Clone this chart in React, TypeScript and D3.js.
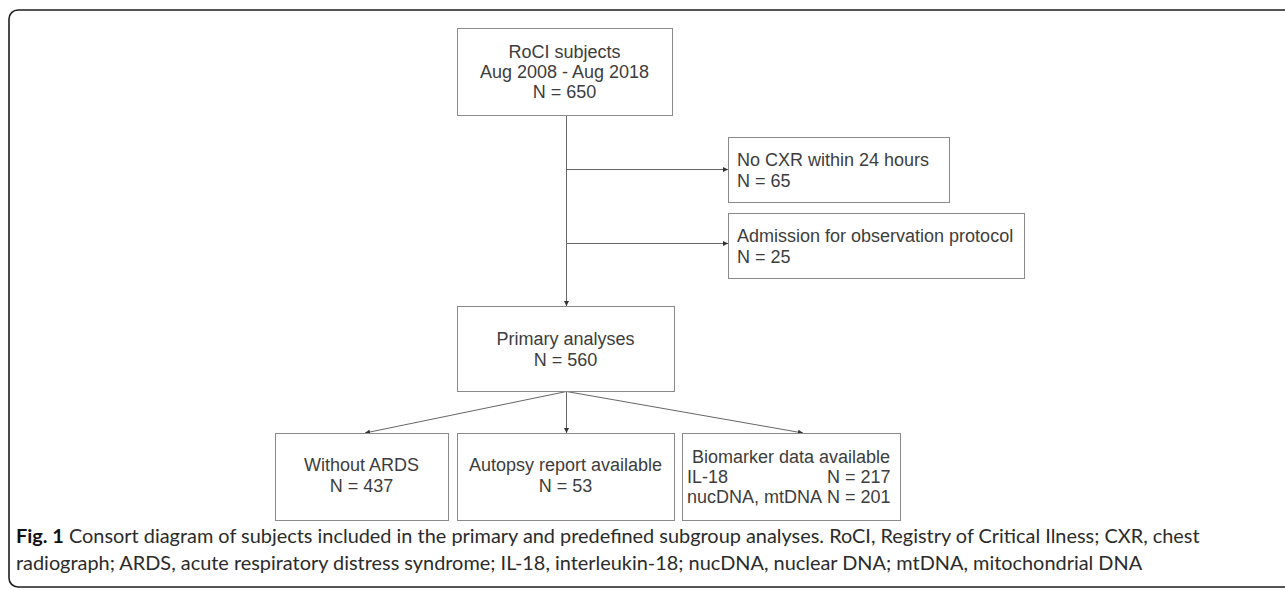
import { useEffect, useRef } from 'react'
import * as d3 from 'd3'

// * Flow data (labels and counts)
const cohortTitle = 'RoCI subjects'
const cohortPeriod = 'Aug 2008 - Aug 2018'
const cohortN = 650

const exclusionLabels = ['No CXR within 24 hours', 'Admission for observation protocol']
const exclusionCounts = [65, 25]

const primaryTitle = 'Primary analyses'
const primaryN = 560

const subgroupLabels = ['Without ARDS', 'Autopsy report available']
const subgroupCounts = [437, 53]

const biomarkerTitle = 'Biomarker data available'
const biomarkerLabels = ['IL-18', 'nucDNA, mtDNA']
const biomarkerCounts = [217, 201]

const captionLines = [
  'Consort diagram of subjects included in the primary and predefined subgroup analyses. RoCI, Registry of Critical Ilness; CXR, chest',
  'radiograph; ARDS, acute respiratory distress syndrome; IL-18, interleukin-18; nucDNA, nuclear DNA; mtDNA, mitochondrial DNA',
]

const W = 1285
const H = 590

interface Box {
  x0: number
  x1: number
  y0: number
  y1: number
}

export default function App() {
  const ref = useRef<SVGSVGElement | null>(null)

  useEffect(() => {
    const svg = d3.select(ref.current)
    svg.selectAll('*').remove()

    const font = "'Liberation Sans', Arial, sans-serif"
    const textColor = '#3d3d3d'
    const boxStroke = '#8a8a8a'
    const lineColor = '#666'

    // * arrow head
    svg
      .append('defs')
      .append('marker')
      .attr('id', 'arrow')
      .attr('viewBox', '0 0 10 10')
      .attr('refX', 10)
      .attr('refY', 5)
      .attr('markerWidth', 6)
      .attr('markerHeight', 5)
      .attr('orient', 'auto')
      .attr('markerUnits', 'userSpaceOnUse')
      .append('path')
      .attr('d', 'M0,0L10,5L0,10Z')
      .attr('fill', '#333')

    // * outer frame (right edge runs off the page)
    svg
      .append('rect')
      .attr('x', 9)
      .attr('y', 10)
      .attr('width', 1300)
      .attr('height', 577)
      .attr('rx', 9)
      .attr('fill', 'none')
      .attr('stroke', '#1e1e1e')
      .attr('stroke-width', 1.6)

    const g = svg.append('g')

    const drawBox = (b: Box) =>
      g
        .append('rect')
        .attr('x', b.x0 + 0.5)
        .attr('y', b.y0 + 0.5)
        .attr('width', b.x1 - b.x0)
        .attr('height', b.y1 - b.y0)
        .attr('fill', '#fff')
        .attr('stroke', boxStroke)
        .attr('stroke-width', 1)

    const drawLines = (lines: string[], x: number, yMid: number, anchor: string, step = 21) => {
      const y0 = yMid - ((lines.length - 1) * step) / 2
      return lines.map((t, i) =>
        g
          .append('text')
          .attr('x', x)
          .attr('y', y0 + i * step)
          .attr('dy', '0.35em')
          .attr('text-anchor', anchor)
          .attr('font-family', font)
          .attr('font-size', 18)
          .attr('fill', textColor)
          .text(t),
      )
    }

    const arrow = (x1: number, y1: number, x2: number, y2: number) =>
      g
        .append('line')
        .attr('x1', x1)
        .attr('y1', y1)
        .attr('x2', x2)
        .attr('y2', y2)
        .attr('stroke', lineColor)
        .attr('stroke-width', 1)
        .attr('marker-end', 'url(#arrow)')

    const plain = (x1: number, y1: number, x2: number, y2: number) =>
      g
        .append('line')
        .attr('x1', x1)
        .attr('y1', y1)
        .attr('x2', x2)
        .attr('y2', y2)
        .attr('stroke', lineColor)
        .attr('stroke-width', 1)

    // * layout
    const spineX = 566.5
    const top: Box = { x0: 457, x1: 672, y0: 28, y1: 115 }
    const side: Box[] = [
      { x0: 728, x1: 949, y0: 137, y1: 202 },
      { x0: 728, x1: 1024, y0: 213, y1: 278 },
    ]
    const branchY = [169.5, 243.5]
    const primary: Box = { x0: 457, x1: 674, y0: 306, y1: 391 }
    const bottom: Box[] = [
      { x0: 275, x1: 448, y0: 433, y1: 520 },
      { x0: 457, x1: 674, y0: 433, y1: 520 },
      { x0: 682, x1: 900, y0: 433, y1: 520 },
    ]

    // * connectors
    plain(spineX, top.y1, spineX, branchY[1])
    arrow(spineX, branchY[1], spineX, primary.y0)
    branchY.forEach((y, i) => arrow(spineX, y, side[i].x0, y))

    const fromY = primary.y1 + 0.5
    arrow(spineX, fromY, 365, bottom[0].y0)
    arrow(spineX, fromY, spineX, bottom[1].y0)
    arrow(spineX, fromY, 803, bottom[2].y0)

    // * boxes
    drawBox(top)
    drawLines([cohortTitle, cohortPeriod, `N = ${cohortN}`], (top.x0 + top.x1) / 2, (top.y0 + top.y1) / 2, 'middle', 20)

    side.forEach((b, i) => {
      drawBox(b)
      drawLines([exclusionLabels[i], `N = ${exclusionCounts[i]}`], b.x0 + 9, (b.y0 + b.y1) / 2 + 1, 'start')
    })

    drawBox(primary)
    drawLines([primaryTitle, `N = ${primaryN}`], (primary.x0 + primary.x1) / 2, (primary.y0 + primary.y1) / 2 + 0.5, 'middle')

    subgroupLabels.forEach((label, i) => {
      const b = bottom[i]
      drawBox(b)
      drawLines([label, `N = ${subgroupCounts[i]}`], (b.x0 + b.x1) / 2, (b.y0 + b.y1) / 2 - 1, 'middle')
    })

    const bio = bottom[2]
    drawBox(bio)
    drawLines([biomarkerTitle], (bio.x0 + bio.x1) / 2, bio.y0 + 24, 'middle')
    const labelX = bio.x0 + 5
    const labels = biomarkerLabels.map((label, i) => drawLines([label], labelX, bio.y0 + 44 + i * 20, 'start')[0])
    // N column lines up after the longer label
    const probe = labels[1].node() as SVGTextElement
    const nX = labelX + probe.getComputedTextLength() + 5
    biomarkerCounts.forEach((n, i) => drawLines([`N = ${n}`], nX, bio.y0 + 44 + i * 20, 'start'))

    // * caption
    const cap = svg
      .append('g')
      .attr('font-family', "Lato, 'Open Sans', sans-serif")
      .attr('font-size', 19.9)
      .attr('fill', '#2b2b2b')
    captionLines.forEach((line, i) => {
      const t = cap
        .append('text')
        .attr('x', 16)
        .attr('y', 543 + i * 27)
      if (i === 0) {
        t.append('tspan').attr('font-weight', 'bold').attr('fill', '#111').text('Fig. 1')
        t.append('tspan').text(' ' + line)
      } else {
        t.text(line)
      }
    })
  }, [])

  return (
    <svg
      ref={ref}
      width={W}
      height={H}
      style={{ position: 'absolute', left: 0, top: 0, background: '#fff', display: 'block' }}
    />
  )
}
